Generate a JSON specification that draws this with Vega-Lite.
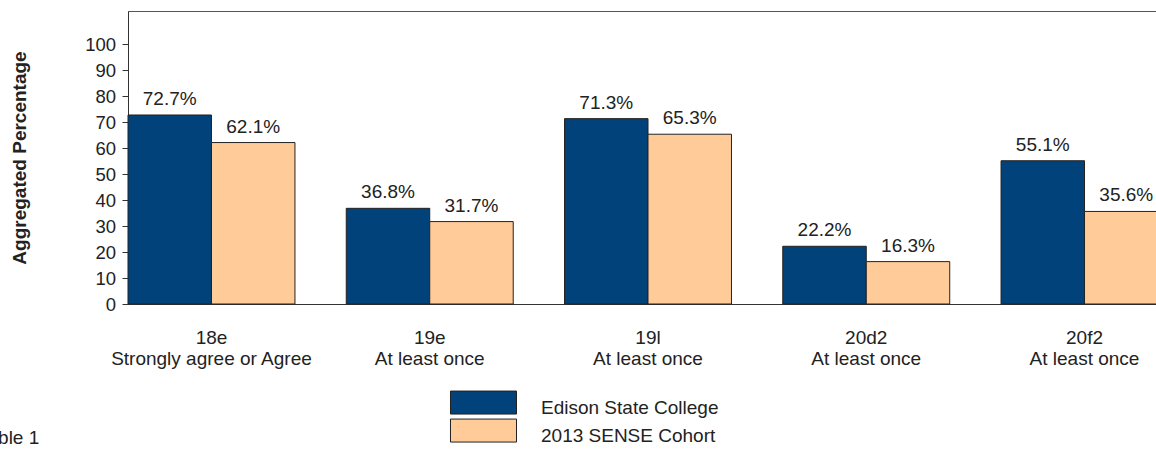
{
  "$schema": "https://vega.github.io/schema/vega-lite/v6.json",
  "autosize": {"type": "none"},
  "padding": {"left": 128, "top": 11, "right": 0, "bottom": 145},
  "width": 1028,
  "height": 293,
  "background": "white",
  "title": {"text": "Table 1", "orient": "bottom", "anchor": "start", "frame": "group", "dx": -150, "offset": -17, "fontSize": 19, "fontWeight": "normal", "font": "Liberation Sans", "color": "#222222"},
  "config": {
    "view": {"stroke": "#555555", "strokeWidth": 1},
    "font": "Liberation Sans",
    "axis": {"labelFont": "Liberation Sans", "titleFont": "Liberation Sans", "labelColor": "#222222", "titleColor": "#222222", "grid": false},
    "legend": {"labelFont": "Liberation Sans"}
  },
  "data": {
    "values": [
      {"question": "18e\nStrongly agree or Agree", "series": "Edison State College", "pct": 72.7},
      {"question": "18e\nStrongly agree or Agree", "series": "2013 SENSE Cohort", "pct": 62.1},
      {"question": "19e\nAt least once", "series": "Edison State College", "pct": 36.8},
      {"question": "19e\nAt least once", "series": "2013 SENSE Cohort", "pct": 31.7},
      {"question": "19l\nAt least once", "series": "Edison State College", "pct": 71.3},
      {"question": "19l\nAt least once", "series": "2013 SENSE Cohort", "pct": 65.3},
      {"question": "20d2\nAt least once", "series": "Edison State College", "pct": 22.2},
      {"question": "20d2\nAt least once", "series": "2013 SENSE Cohort", "pct": 16.3},
      {"question": "20f2\nAt least once", "series": "Edison State College", "pct": 55.1},
      {"question": "20f2\nAt least once", "series": "2013 SENSE Cohort", "pct": 35.6}
    ]
  },
  "encoding": {
    "x": {
      "field": "question", "type": "nominal", "sort": null,
      "scale": {"range": [0, 1040], "paddingInner": 0.235, "paddingOuter": 0},
      "axis": {"title": null, "labelAngle": 0, "ticks": false, "tickSize": 0, "labelPadding": 24, "labelFontSize": 19, "labelLineHeight": 21.5, "labelLimit": 0, "labelExpr": "split(datum.label, '\\n')", "domainColor": "#333333", "domainWidth": 1}
    },
    "xOffset": {
      "field": "series", "type": "nominal", "sort": ["Edison State College", "2013 SENSE Cohort"],
      "scale": {"paddingInner": 0, "paddingOuter": 0}
    },
    "y": {
      "field": "pct", "type": "quantitative",
      "scale": {"domain": [0, 112.7], "nice": false},
      "axis": {"title": "Aggregated Percentage", "titleFontSize": 19, "titleFontWeight": "bold", "titleX": -99, "titleY": 146.5, "values": [0, 10, 20, 30, 40, 50, 60, 70, 80, 90, 100], "tickSize": 6, "tickColor": "#333333", "labelPadding": 6.5, "labelFontSize": 18.5, "domainColor": "#333333"}
    }
  },
  "layer": [
    {
      "mark": {"type": "bar", "stroke": "#222222", "strokeWidth": 1},
      "encoding": {
        "color": {
          "field": "series", "type": "nominal",
          "scale": {"domain": ["Edison State College", "2013 SENSE Cohort"], "range": ["#01427A", "#FFCC99"]},
          "legend": {
            "title": null, "orient": "none", "legendX": 343.5, "legendY": 384.5, "direction": "vertical", "padding": 0,
            "symbolType": "M-2.87,-1.43H2.87V0.57H-2.87Z", "symbolSize": 529, "symbolStrokeColor": "#222222", "symbolStrokeWidth": 1, "symbolOpacity": 1,
            "labelFontSize": 19, "labelColor": "#222222", "labelOffset": 45.5, "labelLimit": 0, "rowPadding": -1
          }
        }
      }
    },
    {
      "transform": [{"calculate": "format(datum.pct, '.1f') + '%'", "as": "label"}],
      "mark": {"type": "text", "baseline": "alphabetic", "align": "center", "dy": -10, "fontSize": 19, "color": "#222222", "font": "Liberation Sans"},
      "encoding": {"text": {"field": "label", "type": "nominal"}}
    }
  ]
}
